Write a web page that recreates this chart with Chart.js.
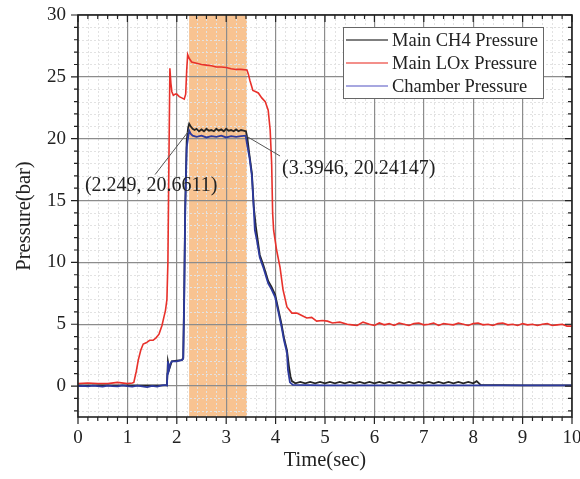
<!DOCTYPE html>
<html>
<head>
<meta charset="utf-8">
<script src="https://cdn.jsdelivr.net/npm/chart.js@4.4.1/dist/chart.umd.min.js"></script>
<style>
  html, body { margin: 0; padding: 0; background: #fff; }
  #wrap { width: 580px; height: 479px; }
</style>
</head>
<body>
<div id="wrap"><canvas id="c" width="580" height="479"></canvas></div>
<script>
// Main LOx pressure (red)
const loxT = [0, 0.2, 0.4, 0.6, 0.8, 1.0, 1.1, 1.13, 1.18, 1.22, 1.27, 1.32, 1.38, 1.45, 1.52, 1.58, 1.64, 1.7, 1.74, 1.77, 1.8, 1.82, 1.84, 1.86,
  1.88, 1.9, 1.93, 1.97, 2.0, 2.05, 2.1, 2.15, 2.18, 2.2, 2.22, 2.25, 2.3, 2.4, 2.5, 2.6, 2.7, 2.8, 2.9, 3.0, 3.1, 3.2, 3.3, 3.42,
  3.45, 3.48, 3.54, 3.6, 3.65, 3.72, 3.79, 3.85, 3.89, 3.92, 3.94, 3.96, 4.02, 4.09, 4.15, 4.23, 4.33, 4.43, 4.53, 4.63, 4.73, 4.83,
  4.95, 5.05, 5.15, 5.3, 5.45, 5.55, 5.65, 5.77, 5.9,
  6.0, 6.1, 6.2, 6.3, 6.4, 6.5, 6.6, 6.7, 6.8, 6.9, 7.0, 7.1, 7.2, 7.3, 7.4, 7.5, 7.6, 7.7, 7.8, 7.9, 8.0,
  8.1, 8.2, 8.3, 8.4, 8.5, 8.6, 8.7, 8.8, 8.9, 9.0, 9.1, 9.2, 9.3, 9.4, 9.5, 9.6, 9.7, 9.8, 9.9, 10.0];
const loxP = [0.2, 0.25, 0.2, 0.2, 0.3, 0.2, 0.25, 0.3, 1.2, 2.1, 2.9, 3.4, 3.5, 3.7, 3.7, 3.9, 4.2, 4.9, 5.6, 6.1, 7.0, 10, 18, 25.7,
  24.5, 23.8, 23.5, 23.6, 23.6, 23.4, 23.3, 23.2, 23.6, 25.5, 26.8, 26.5, 26.2, 26.1, 26.0, 25.95, 25.9, 25.8, 25.8, 25.75, 25.65, 25.6, 25.6, 25.55,
  25.2, 24.7, 23.9, 23.8, 23.7, 23.3, 23.0, 22.3, 20.7, 18, 14, 12.6, 11.0, 9.6, 7.8, 6.4, 5.9, 5.9, 5.7, 5.5, 5.55, 5.25,
  5.3, 5.25, 5.1, 5.17, 5.0, 4.95, 4.9, 5.17, 5.0,
  4.9, 5.1, 4.95, 5.05, 4.9, 5.1, 5.0, 4.9, 5.05, 5.1, 4.95, 5.0, 5.1, 4.9, 5.05, 5.0, 4.95, 5.1, 5.0, 4.9, 5.05,
  5.1, 4.95, 5.0, 4.9, 5.05, 5.1, 4.95, 5.0, 4.9, 5.05, 4.95, 5.0, 4.9, 5.0, 5.05, 4.9, 4.95, 5.0, 4.85, 4.85];

// Main CH4 pressure (black)
const ch4T = [0, 1.8, 1.82, 1.85, 1.9, 2.0, 2.1, 2.13, 2.15, 2.17, 2.2, 2.23, 2.25, 2.28, 2.32, 2.36, 2.4, 2.45, 2.5, 2.55, 2.6, 2.65,
  2.7, 2.75, 2.8, 2.85, 2.9, 2.95, 3.0, 3.05, 3.1, 3.15, 3.2, 3.25, 3.3, 3.35, 3.4, 3.43, 3.47, 3.52, 3.56, 3.6, 3.68, 3.75, 3.85,
  3.92, 3.99, 4.05, 4.12, 4.17, 4.23, 4.27, 4.3, 4.33,
  4.4, 4.5, 4.6, 4.7, 4.8, 4.9, 5.0, 5.1, 5.2, 5.3, 5.4, 5.5, 5.6, 5.7, 5.8, 5.9, 6.0, 6.1, 6.2, 6.3, 6.4, 6.5, 6.6, 6.7, 6.8,
  6.9, 7.0, 7.1, 7.2, 7.3, 7.4, 7.5, 7.6, 7.7, 7.8, 7.9, 8.0, 8.07, 8.15, 9.0, 10.0];
const ch4P = [0.05, 0.05, 2.0, 1.4, 2.0, 2.05, 2.1, 2.3, 7.5, 14.5, 19.8, 20.9, 21.2, 21.0, 20.8, 20.7, 20.8, 20.6, 20.75, 20.6, 20.8, 20.65,
  20.7, 20.6, 20.8, 20.65, 20.75, 20.6, 20.8, 20.65, 20.7, 20.6, 20.75, 20.6, 20.7, 20.65, 20.6, 20.0, 18.7, 17.2, 14.4, 12.9, 10.6, 9.8, 8.5,
  8.0, 7.4, 6.3, 5.0, 3.9, 2.9, 1.6, 0.8, 0.4,
  0.22, 0.34, 0.22, 0.34, 0.22, 0.34, 0.22, 0.34, 0.22, 0.34, 0.22, 0.34, 0.22, 0.34, 0.22, 0.34, 0.22, 0.34, 0.22, 0.34, 0.22, 0.34, 0.22, 0.34, 0.22,
  0.34, 0.22, 0.34, 0.22, 0.34, 0.22, 0.34, 0.22, 0.34, 0.22, 0.34, 0.22, 0.4, 0.1, 0.05, 0.05];

// Chamber pressure (blue)
const chT = [0, 0.1, 0.2, 0.3, 0.4, 0.5, 0.6, 0.7, 0.8, 0.9, 1.0, 1.1, 1.2, 1.3, 1.4, 1.5, 1.6, 1.7, 1.78, 1.8, 1.81, 1.82, 1.84,
  1.87, 1.9, 2.0, 2.05, 2.1, 2.13, 2.15, 2.17, 2.2, 2.249, 2.28, 2.32, 2.4, 2.5, 2.6, 2.7, 2.8, 2.9, 3.0, 3.1, 3.2, 3.3, 3.3946,
  3.42, 3.47, 3.52, 3.56, 3.58, 3.62, 3.68, 3.75, 3.85, 3.92, 3.99, 4.05, 4.12, 4.17, 4.23, 4.25, 4.29, 4.35,
  5.0, 6.0, 7.0, 8.0, 9.0, 10.0];
const chP = [0, 0.02, -0.03, 0.03, 0, -0.05, 0.04, 0, -0.03, 0.05, 0, -0.04, 0.03, -0.02, -0.08, 0.02, -0.05, 0.05, 0.1, 0.05, 1.0, 2.0, 1.3,
  1.8, 2.0, 2.0, 2.05, 2.1, 2.2, 7.0, 14.0, 19.3, 20.6611, 20.4, 20.25, 20.15, 20.25, 20.1, 20.2, 20.15, 20.25, 20.1, 20.2, 20.15, 20.2, 20.24147,
  19.6, 18.5, 17.0, 14.2, 12.6, 11.8, 10.4, 9.6, 8.3, 7.8, 7.2, 6.1, 4.8, 3.7, 2.7, 1.3, 0.3, 0.1,
  0.05, 0.05, 0.05, 0.05, 0.05, 0.05];

const seriesNames = ['Main CH4 Pressure', 'Main LOx Pressure', 'Chamber Pressure'];
const seriesColors = ['#262626', '#e8312b', '#2d3a9e'];
const legendColors = ['#555555', '#ef6a63', '#8a8ad6'];

const xTicks = [0, 1, 2, 3, 4, 5, 6, 7, 8, 9, 10];
const yTicks = [0, 5, 10, 15, 20, 25, 30];
const band = [2.249, 3.42];
const marks = [
  { x: 2.249, y: 20.6611, text: '(2.249, 20.6611)', lx: 1.56, ly: 17.1, tx: 0.14, ty: 16.2 },
  { x: 3.3946, y: 20.24147, text: '(3.3946, 20.24147)', lx: 4.09, ly: 18.6, tx: 4.13, ty: 17.6 }
];

const serif = '"Liberation Serif", "DejaVu Serif", serif';

function pts(t, p) { return t.map((v, i) => ({ x: v, y: p[i] })); }

const decor = {
  id: 'decor',
  beforeDraw(chart) {
    const { ctx, chartArea: a, scales: { x, y } } = chart;
    ctx.save();
    // highlighted window
    ctx.fillStyle = '#f8c391';
    ctx.fillRect(x.getPixelForValue(band[0]), a.top, x.getPixelForValue(band[1]) - x.getPixelForValue(band[0]), a.bottom - a.top);
    // minor grid
    ctx.strokeStyle = '#e2e2e2';
    ctx.lineWidth = 1;
    ctx.setLineDash([2, 2]);
    ctx.beginPath();
    for (let i = 0; i <= 50; i++) {
      if (i % 5 === 0) continue;
      const px = Math.round(x.getPixelForValue(i / 5)) + 0.5;
      ctx.moveTo(px, a.top); ctx.lineTo(px, a.bottom);
    }
    for (let v = -2; v <= 29; v++) {
      if (v % 5 === 0) continue;
      const py = Math.round(y.getPixelForValue(v)) + 0.5;
      ctx.moveTo(a.left, py); ctx.lineTo(a.right, py);
    }
    ctx.stroke();
    ctx.restore();
  },
  afterDraw(chart) {
    const { ctx, chartArea: a, scales: { x, y } } = chart;
    ctx.save();
    // frame
    ctx.strokeStyle = '#222';
    ctx.lineWidth = 1.6;
    ctx.strokeRect(a.left, a.top, a.right - a.left, a.bottom - a.top);
    // ticks: outward on left/bottom, inward on top/right
    ctx.lineWidth = 1.2;
    ctx.beginPath();
    for (let i = 0; i <= 50; i++) {
      const px = x.getPixelForValue(i / 5);
      const len = i % 5 === 0 ? 7 : 4;
      ctx.moveTo(px, a.bottom); ctx.lineTo(px, a.bottom + len);
      ctx.moveTo(px, a.top); ctx.lineTo(px, a.top + len);
    }
    for (let v = -2; v <= 30; v++) {
      const py = y.getPixelForValue(v);
      const len = v % 5 === 0 ? 7 : 4;
      ctx.moveTo(a.left, py); ctx.lineTo(a.left - len, py);
      ctx.moveTo(a.right, py); ctx.lineTo(a.right - len, py);
    }
    ctx.stroke();

    // leader lines and labels
    ctx.strokeStyle = '#555';
    ctx.lineWidth = 1;
    ctx.fillStyle = '#222';
    ctx.font = '20px ' + serif;
    ctx.textBaseline = 'middle';
    ctx.textAlign = 'left';
    marks.forEach(m => {
      ctx.beginPath();
      ctx.moveTo(x.getPixelForValue(m.x), y.getPixelForValue(m.y));
      ctx.lineTo(x.getPixelForValue(m.lx), y.getPixelForValue(m.ly));
      ctx.stroke();
      ctx.fillText(m.text, x.getPixelForValue(m.tx), y.getPixelForValue(m.ty));
    });

    // legend
    const lx = 343, ly = 27, lw = 200, lh = 71;
    ctx.fillStyle = '#fff';
    ctx.fillRect(lx, ly, lw, lh);
    ctx.strokeStyle = '#666';
    ctx.lineWidth = 1;
    ctx.strokeRect(lx + 0.5, ly + 0.5, lw, lh);
    ctx.font = '18.5px ' + serif;
    seriesNames.forEach((n, i) => {
      const ry = ly + 13 + i * 23;
      ctx.strokeStyle = legendColors[i];
      ctx.lineWidth = 1.5;
      ctx.beginPath();
      ctx.moveTo(lx + 3, ry); ctx.lineTo(lx + 45, ry);
      ctx.stroke();
      ctx.fillStyle = '#222';
      ctx.fillText(n, lx + 49, ry + 1);
    });
    ctx.restore();
  }
};

new Chart(document.getElementById('c'), {
  type: 'line',
  data: {
    datasets: [
      { label: seriesNames[2], data: pts(chT, chP), borderColor: seriesColors[2], borderWidth: 1.8 },
      { label: seriesNames[0], data: pts(ch4T, ch4P), borderColor: seriesColors[0], borderWidth: 1.8 },
      { label: seriesNames[1], data: pts(loxT, loxP), borderColor: seriesColors[1], borderWidth: 1.6 }
    ]
  },
  options: {
    responsive: false,
    animation: false,
    parsing: false,
    layout: { padding: { top: 15, right: 8, left: 0, bottom: 0 } },
    elements: { point: { radius: 0 }, line: { tension: 0, fill: false } },
    plugins: { legend: { display: false }, tooltip: { enabled: false } },
    scales: {
      x: {
        type: 'linear', min: 0, max: 10,
        afterBuildTicks: s => { s.ticks = xTicks.map(v => ({ value: v })); },
        afterFit: s => { s.height = 62; s.paddingLeft = 0; s.paddingRight = 0; },
        grid: { color: '#8c8c8c', lineWidth: 1.2, drawTicks: false },
        border: { display: false },
        ticks: { color: '#222', font: { family: serif, size: 19 }, padding: 10, maxRotation: 0 },
        title: { display: true, text: 'Time(sec)', color: '#222', font: { family: serif, size: 20.5 }, padding: { top: 4, bottom: 6 } }
      },
      y: {
        type: 'linear', min: -2.5, max: 30,
        afterBuildTicks: s => { s.ticks = yTicks.map(v => ({ value: v })); },
        afterFit: s => { s.width = 78; s.paddingTop = 0; s.paddingBottom = 0; },
        grid: { color: '#8c8c8c', lineWidth: 1.2, drawTicks: false },
        border: { display: false },
        ticks: { color: '#222', font: { family: serif, size: 19 }, padding: 12 },
        title: { display: true, text: 'Pressure(bar)', color: '#222', font: { family: serif, size: 20.5 }, padding: { top: 12, bottom: 4 } }
      }
    }
  },
  plugins: [decor]
});
</script>
</body>
</html>
